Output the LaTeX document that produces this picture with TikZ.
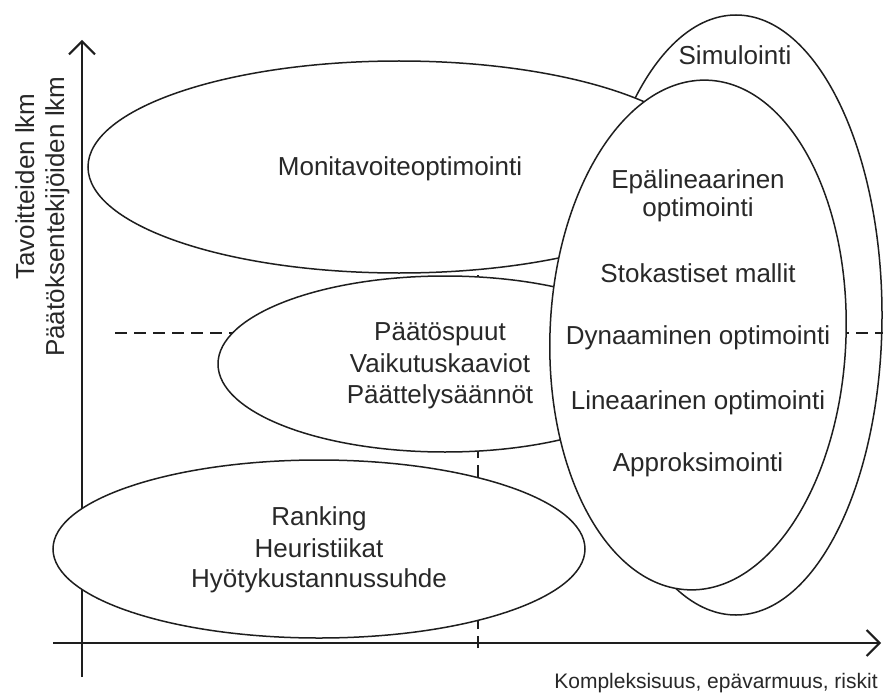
\documentclass[tikz,border=0pt]{standalone}
\usepackage{fontspec}
\setmainfont{Liberation Sans}
\usetikzlibrary{arrows.meta}
\definecolor{ink}{RGB}{30,30,30}
\definecolor{txt}{RGB}{40,40,40}
\begin{document}
\begin{tikzpicture}[x=1pt,y=-1pt,
  blob/.style={draw=ink, line width=1.5pt, fill=white},
  axis/.style={draw=ink, line width=2.5pt, -{Straight Barb[length=13pt,width=26pt,line width=2pt]}},
  guide/.style={draw=ink, line width=1.4pt, dash pattern=on 12pt off 7pt},
  lbl/.style={font=\fontsize{26}{30}\selectfont, text=txt, anchor=base, inner sep=0pt},
  small/.style={font=\fontsize{21}{25}\selectfont, text=txt, anchor=base, inner sep=0pt}]
\useasboundingbox (0,0) rectangle (883,698);
\fill[white] (0,0) rectangle (883,698);
% axes
\coordinate (yb) at (82,677); \coordinate (yt) at (82,40);
\coordinate (xl) at (53,643); \coordinate (xr) at (881,643);
\draw[axis] (yb) -- (yt);
\draw[axis] (xl) -- (xr);
% outer ellipse
\draw[blob] (736,315) ellipse [x radius=146, y radius=300];
% guides
\coordinate (h1) at (115,333); \coordinate (h2) at (883,333);
\coordinate (v1) at (478,648); \coordinate (v2) at (478,200);
\draw[guide] (h1) -- (h2);
\draw[guide] (v1) -- (v2);
% left ellipses
\draw[blob] (399,167) ellipse [x radius=311, y radius=106];
\draw[blob] (445,364) ellipse [x radius=227, y radius=88];
\draw[blob] (319,549) ellipse [x radius=266, y radius=89];
% inner ellipse
\draw[blob, rotate around={-2.2:(698,335)}] (698,335) ellipse [x radius=148, y radius=255];
% texts
\node[lbl] (sim) at (735,65) {Simulointi};
\node[lbl] (epa) at (698,188) {Epälineaarinen};
\node[lbl] (epb) at (698,216) {optimointi};
\node[lbl] (sto) at (698,282) {Stokastiset mallit};
\node[lbl] (dyn) at (698,344) {Dynaaminen optimointi};
\node[lbl] (lin) at (698,409) {Lineaarinen optimointi};
\node[lbl] (app) at (698,471) {Approksimointi};
\node[lbl] (mon) at (400,175) {Monitavoiteoptimointi};
\node[lbl] (pa1) at (440,340) {Päätöspuut};
\node[lbl] (pa2) at (440,372) {Vaikutuskaaviot};
\node[lbl] (pa3) at (440,403) {Päättelysäännöt};
\node[lbl] (ra1) at (319,525) {Ranking};
\node[lbl] (ra2) at (319,557) {Heuristiikat};
\node[lbl] (ra3) at (319,587) {Hyötykustannussuhde};
\node[small] (xlab) at (716,688) {Kompleksisuus, epävarmuus, riskit};
\node[lbl, rotate=90, anchor=base west] (yl1) at (34,280) {Tavoitteiden lkm};
\node[lbl, rotate=90, anchor=base west] (yl2) at (64,357) {Päätöksentekijöiden lkm};
\end{tikzpicture}
\end{document}
